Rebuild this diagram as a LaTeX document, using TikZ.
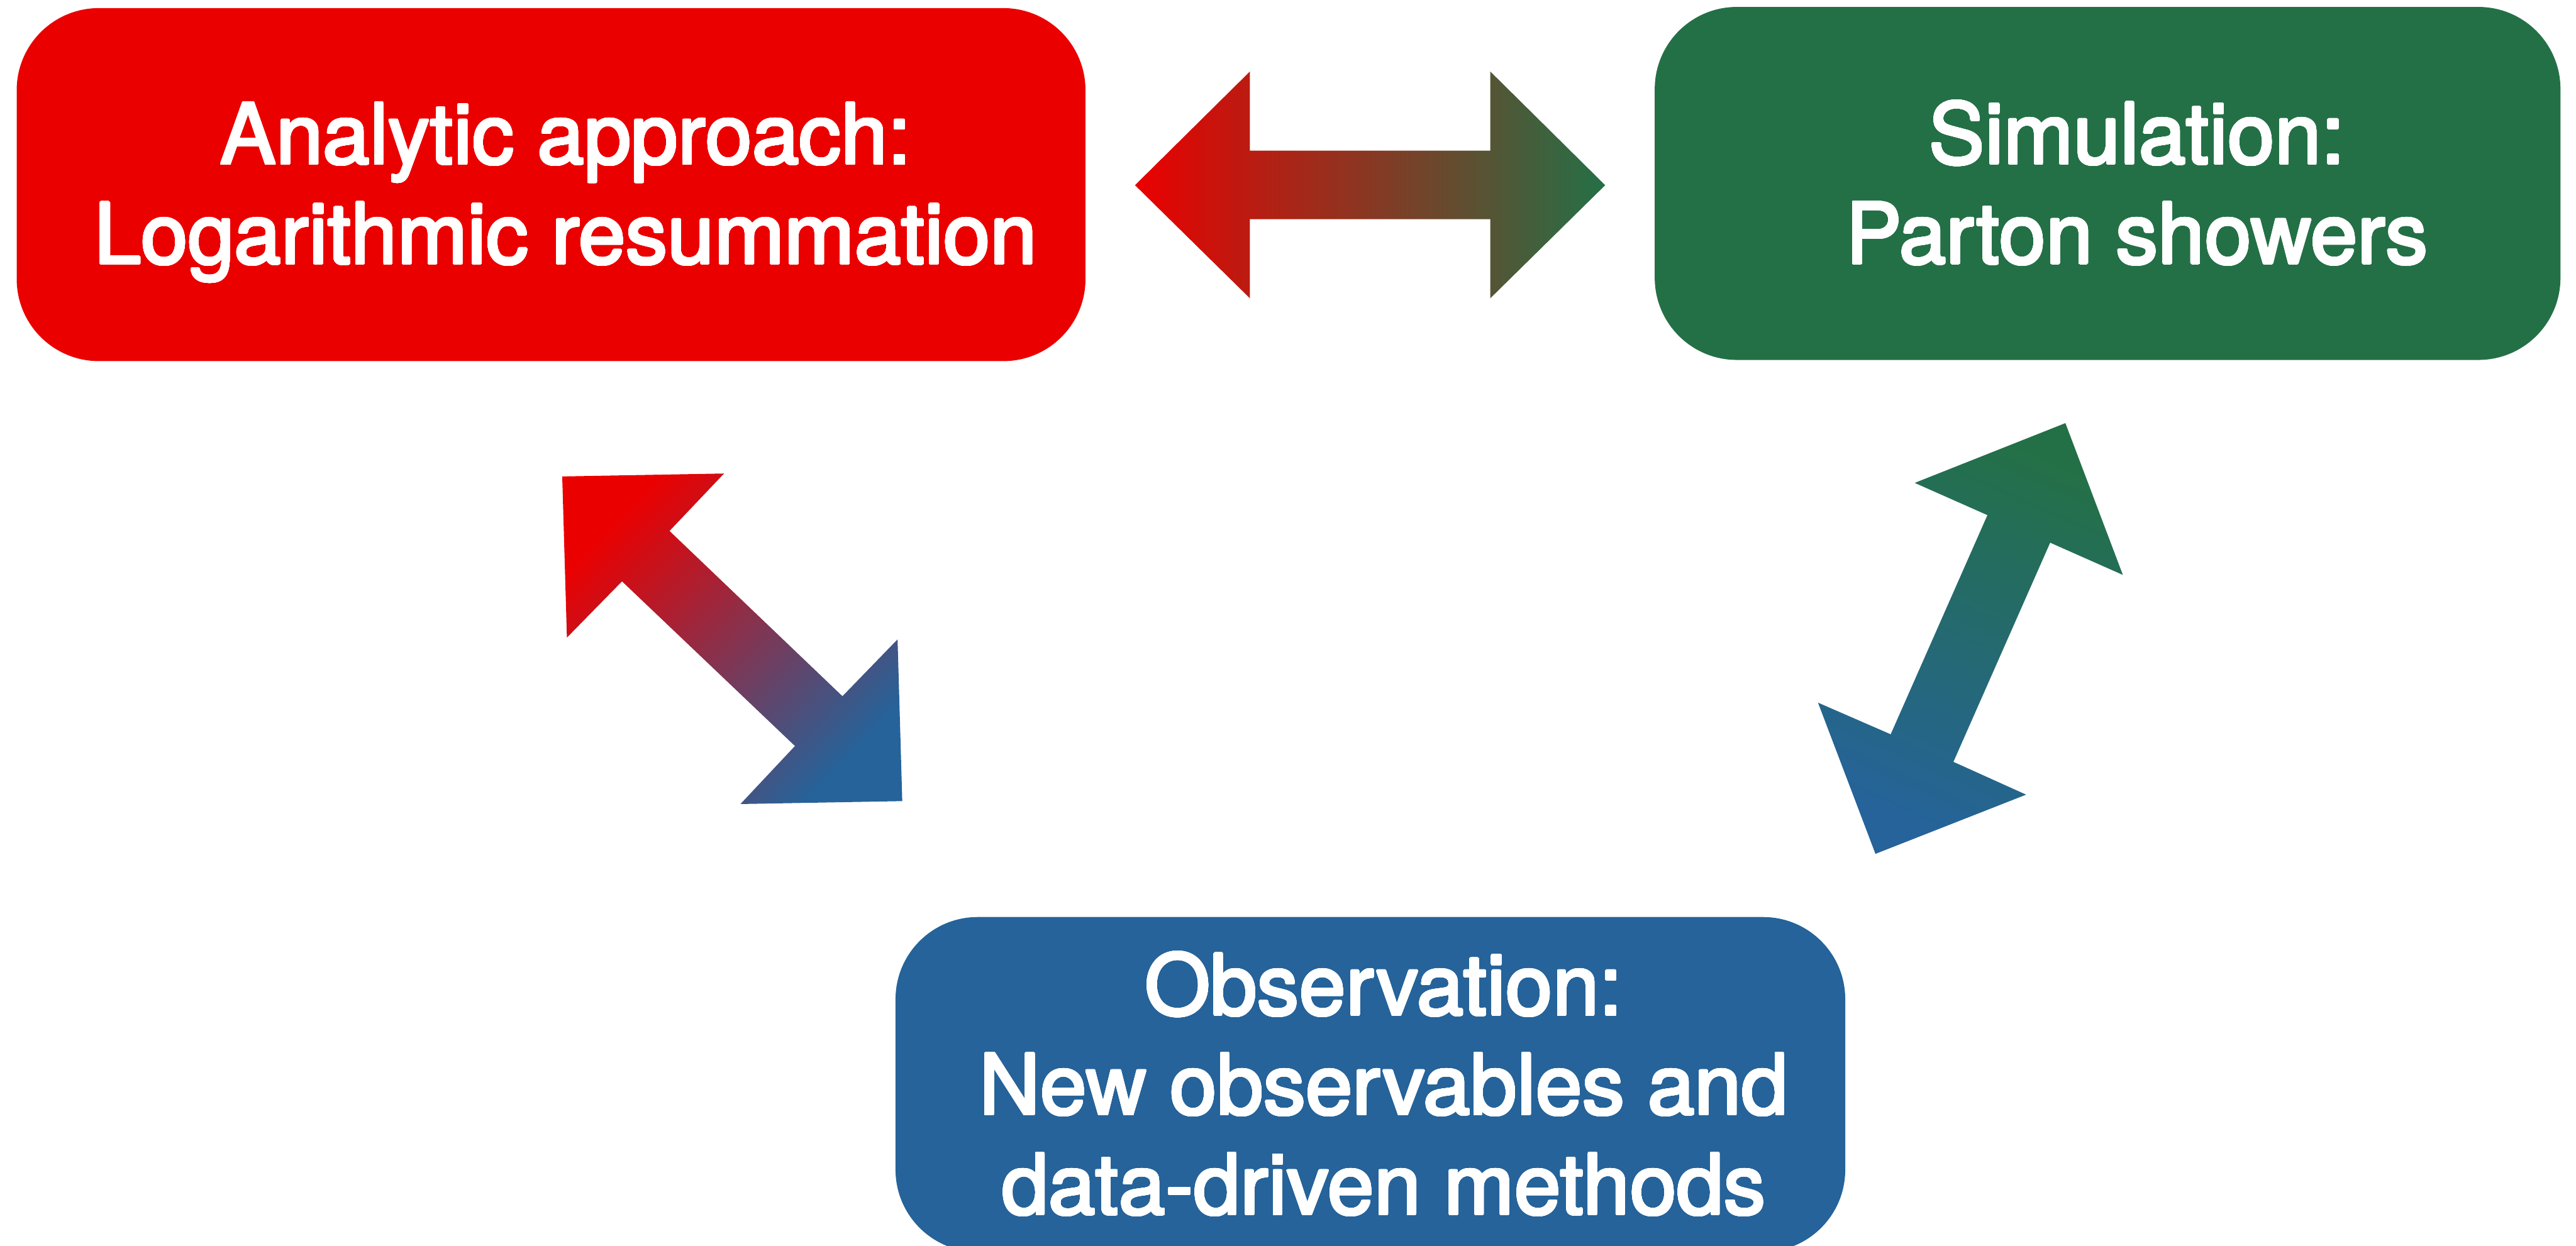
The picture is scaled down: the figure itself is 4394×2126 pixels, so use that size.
\documentclass[tikz,border=0pt]{standalone}
\usepackage{fontspec}
\usepackage{contour}
\setmainfont{TeX Gyre Heros}
\definecolor{analyticred}{RGB}{235,0,0}
\definecolor{showergreen}{RGB}{36,112,70}
\definecolor{observblue}{RGB}{37,99,154}
\contourlength{0.55pt}
\contournumber{32}
\newcommand{\lnstrut}{\rule[-0.21em]{0pt}{1.14em}}
\newcommand{\boxline}[1]{\lnstrut\contour{white}{#1}}

\begin{document}
\begin{tikzpicture}[x=0.01cm,y=-0.01cm,
  box/.style={rounded corners=1.4cm, inner sep=0pt},
  boxtext/.style={text=white, align=center, inner sep=0pt,
    font=\fontsize{40.8pt}{48.4pt}\selectfont}]
\useasboundingbox (0,0) rectangle (4394,2126);

% Draw the three boxes.
\node[box, fill=analyticred, minimum width=18.22cm, minimum height=6.02cm] (analytic) at (940,315) {};
\node[box, fill=showergreen, minimum width=15.44cm, minimum height=6.02cm] (simulation) at (3595,313) {};
\node[box, fill=observblue, minimum width=16.19cm, minimum height=5.71cm] (observation) at (2337.5,1850.5) {};

\node[boxtext] (analytic-text) at ([xshift=0.25cm]analytic.center) {\boxline{Analytic approach:}\\ \boxline{Logarithmic resummation}};
\node[boxtext] (simulation-text) at ([xshift=0.5cm]simulation.center) {\boxline{Simulation:}\\ \boxline{Parton showers}};
\node[boxtext] (observation-text) at ([xshift=0.23cm]observation.center) {\boxline{Observation:}\\ \boxline{New observables and}\\ \boxline{data-driven methods}};

% Draw the double arrows, shaded from one box colour to the other.
\shade[left color=analyticred, right color=showergreen] (1936,316) -- (2132,122) -- (2132,257) -- (2542,257) -- (2542,122) -- (2738,316) -- (2542,509) -- (2542,374) -- (2132,374) -- (2132,509) -- cycle;
\shade[top color=analyticred, bottom color=observblue, shading angle=46] (959,813) -- (1235,808) -- (1142,906) -- (1437,1188) -- (1531,1091) -- (1539,1367) -- (1263,1372) -- (1356,1273) -- (1061,992) -- (967,1088) -- cycle;
\shade[top color=showergreen, bottom color=observblue, shading angle=-24] (3523,722) -- (3621,981) -- (3497,926) -- (3332,1300) -- (3456,1356) -- (3199,1457) -- (3101,1199) -- (3225,1253) -- (3390,879) -- (3266,824) -- cycle;
\end{tikzpicture}
\end{document}
